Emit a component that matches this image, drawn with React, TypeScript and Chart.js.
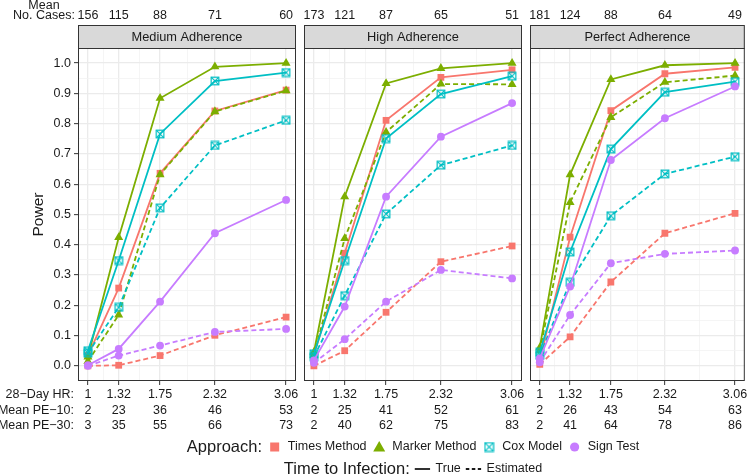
import React, { useEffect, useRef } from 'react';
import { Chart, registerables } from 'chart.js';
Chart.register(...registerables);

const FONT = '"Liberation Sans", Arial, Helvetica, sans-serif';

// ---------- data ----------
const hrValues = [1, 1.32, 1.75, 2.32, 3.06];
const hrLabels = ['1', '1.32', '1.75', '2.32', '3.06'];
const panelTitles = ['Medium Adherence', 'High Adherence', 'Perfect Adherence'];

const casesMedium = [156, 115, 88, 71, 60];
const casesHigh = [173, 121, 87, 65, 51];
const casesPerfect = [181, 124, 88, 64, 49];

const pe10Medium = [2, 23, 36, 46, 53];
const pe10High = [2, 25, 41, 52, 61];
const pe10Perfect = [2, 26, 43, 54, 63];

const pe30Medium = [3, 35, 55, 66, 73];
const pe30High = [2, 40, 62, 75, 83];
const pe30Perfect = [2, 41, 64, 78, 86];

const approachNames = ['Times Method', 'Marker Method', 'Cox Model', 'Sign Test'];
const approachColors = ['#F8766D', '#7CAE00', '#00BFC4', '#C77CFF'];
const timeTypes = ['True', 'Estimated'];

// Medium adherence
const medTimesTrue = [0.035, 0.257, 0.636, 0.842, 0.911];
const medTimesEst = [0.0, 0.002, 0.034, 0.101, 0.161];
const medMarkerTrue = [0.03, 0.424, 0.884, 0.988, 1.0];
const medMarkerEst = [0.015, 0.168, 0.632, 0.84, 0.909];
const medCoxTrue = [0.05, 0.348, 0.766, 0.941, 0.969];
const medCoxEst = [0.042, 0.193, 0.522, 0.728, 0.811];
const medSignTrue = [0.002, 0.056, 0.212, 0.438, 0.548];
const medSignEst = [0.0, 0.034, 0.067, 0.112, 0.122];

// High adherence
const highTimesTrue = [0.035, 0.372, 0.811, 0.953, 0.978];
const highTimesEst = [0.0, 0.05, 0.177, 0.344, 0.396];
const highMarkerTrue = [0.045, 0.559, 0.933, 0.983, 1.0];
const highMarkerEst = [0.035, 0.421, 0.772, 0.931, 0.93];
const highCoxTrue = [0.04, 0.348, 0.751, 0.898, 0.957];
const highCoxEst = [0.03, 0.232, 0.502, 0.663, 0.728];
const highSignTrue = [0.018, 0.196, 0.559, 0.757, 0.868];
const highSignEst = [0.01, 0.088, 0.212, 0.317, 0.289];

// Perfect adherence
const perfTimesTrue = [0.02, 0.425, 0.843, 0.965, 0.986];
const perfTimesEst = [0.005, 0.096, 0.277, 0.438, 0.504];
const perfMarkerTrue = [0.06, 0.632, 0.946, 0.993, 1.0];
const perfMarkerEst = [0.05, 0.54, 0.821, 0.937, 0.959];
const perfCoxTrue = [0.045, 0.376, 0.716, 0.904, 0.939];
const perfCoxEst = [0.035, 0.276, 0.496, 0.634, 0.691];
const perfSignTrue = [0.025, 0.262, 0.68, 0.818, 0.923];
const perfSignEst = [0.012, 0.168, 0.339, 0.37, 0.381];

const panelSeries = [
  [[medTimesTrue, medTimesEst], [medMarkerTrue, medMarkerEst], [medCoxTrue, medCoxEst], [medSignTrue, medSignEst]],
  [[highTimesTrue, highTimesEst], [highMarkerTrue, highMarkerEst], [highCoxTrue, highCoxEst], [highSignTrue, highSignEst]],
  [[perfTimesTrue, perfTimesEst], [perfMarkerTrue, perfMarkerEst], [perfCoxTrue, perfCoxEst], [perfSignTrue, perfSignEst]],
];
const panelCases = [casesMedium, casesHigh, casesPerfect];
const panelPe10 = [pe10Medium, pe10High, pe10Perfect];
const panelPe30 = [pe30Medium, pe30High, pe30Perfect];

// ---------- layout ----------
const W = 750;
const H = 476;
const PANEL_LEFT = [78, 304, 530];
const PANEL_RIGHT = [296, 522, 748];
const PLOT_TOP = 48;
const PLOT_BOTTOM = 381;
const STRIP_TOP = 25;
const X_AXIS_H = 60;
const TICK_LEN = 4;
const TICK_PAD = 2;
const LINE_H = 15.5;
const AXIS_FONT = 12.5;

const X_MINOR = [1.16, 1.535, 2.035, 2.69];

function isMajorX(v: number) {
  return hrValues.some((h) => Math.abs(h - v) < 1e-6);
}
function isMajorY(v: number) {
  return Math.abs(v * 10 - Math.round(v * 10)) < 1e-6;
}

function makeCoxImage(color: string, size = 9) {
  const c = document.createElement('canvas');
  c.width = size;
  c.height = size;
  const g = c.getContext('2d')!;
  g.strokeStyle = color;
  g.lineWidth = 1.2;
  const a = 1.2;
  const b = size - 1.2;
  g.strokeRect(a, a, b - a, b - a);
  g.beginPath();
  g.moveTo(a, a);
  g.lineTo(b, b);
  g.moveTo(b, a);
  g.lineTo(a, b);
  g.stroke();
  return c;
}

function drawKeyShape(ctx: CanvasRenderingContext2D, k: number, cx: number, cy: number) {
  const col = approachColors[k];
  ctx.save();
  ctx.fillStyle = col;
  if (k === 0) {
    ctx.fillRect(cx - 4.5, cy - 4.5, 9, 9);
  } else if (k === 1) {
    ctx.beginPath();
    ctx.moveTo(cx, cy - 6);
    ctx.lineTo(cx + 6, cy + 4.5);
    ctx.lineTo(cx - 6, cy + 4.5);
    ctx.closePath();
    ctx.fill();
  } else if (k === 2) {
    const c2 = makeCoxImage(col, 11);
    ctx.drawImage(c2, cx - 5.5, cy - 5.5);
  } else {
    ctx.beginPath();
    ctx.arc(cx, cy, 4.6, 0, Math.PI * 2);
    ctx.fill();
  }
  ctx.restore();
}

function drawLegend(ctx: CanvasRenderingContext2D) {
  const center = 413;
  const titleFont = `16.5px ${FONT}`;
  const itemFont = `12.5px ${FONT}`;
  const KEY = 17.3;
  const GAP_TEXT = 4.5;
  const GAP_ITEM = 4;
  ctx.save();
  ctx.textBaseline = 'middle';
  ctx.textAlign = 'left';
  ctx.fillStyle = '#1a1a1a';

  // Row 1: Approach
  const y1 = 447;
  ctx.font = titleFont;
  const t1 = 'Approach:';
  const t1w = ctx.measureText(t1).width;
  ctx.font = itemFont;
  let total1 = t1w;
  approachNames.forEach((n) => {
    total1 += GAP_ITEM + KEY + GAP_TEXT + ctx.measureText(n).width;
  });
  let x = center - total1 / 2;
  ctx.font = titleFont;
  ctx.fillText(t1, x, y1);
  x += t1w;
  ctx.font = itemFont;
  approachNames.forEach((n, k) => {
    x += GAP_ITEM;
    drawKeyShape(ctx, k, x + KEY / 2, y1);
    x += KEY + GAP_TEXT;
    ctx.fillStyle = '#1a1a1a';
    ctx.fillText(n, x, y1);
    x += ctx.measureText(n).width;
  });

  // Row 2: Time to Infection
  const y2 = 469;
  ctx.font = titleFont;
  const t2 = 'Time to Infection:';
  const t2w = ctx.measureText(t2).width;
  ctx.font = itemFont;
  let total2 = t2w;
  timeTypes.forEach((n) => {
    total2 += GAP_ITEM + KEY + GAP_TEXT + ctx.measureText(n).width;
  });
  x = center - total2 / 2;
  ctx.font = titleFont;
  ctx.fillText(t2, x, y2);
  x += t2w;
  ctx.font = itemFont;
  timeTypes.forEach((n, k) => {
    x += GAP_ITEM;
    ctx.save();
    ctx.strokeStyle = '#1a1a1a';
    ctx.lineWidth = 1.8;
    if (k === 1) ctx.setLineDash([3.5, 2.5]);
    ctx.beginPath();
    ctx.moveTo(x + 1, y2);
    ctx.lineTo(x + KEY - 1, y2);
    ctx.stroke();
    ctx.restore();
    x += KEY + GAP_TEXT;
    ctx.fillText(n, x, y2);
    x += ctx.measureText(n).width;
  });
  ctx.restore();
}

function buildConfig(idx: number, cox: HTMLCanvasElement): any {
  const series = panelSeries[idx];
  const datasets: any[] = [];
  const styles: any[] = ['rect', 'triangle', cox, 'circle'];
  const radii = [4.8, 5.2, 5, 3.9];
  let order = 100;
  series.forEach((pair, k) => {
    pair.forEach((vals, t) => {
      datasets.push({
        label: `${approachNames[k]} - ${timeTypes[t]}`,
        data: hrValues.map((x, i) => ({ x, y: vals[i] })),
        borderColor: approachColors[k],
        backgroundColor: approachColors[k],
        borderWidth: 1.8,
        borderDash: t === 1 ? [5, 3] : [],
        pointStyle: styles[k],
        pointRadius: radii[k],
        pointBorderWidth: 0,
        pointHoverRadius: radii[k],
        tension: 0,
        fill: false,
        order: order--,
      });
    });
  });

  const first = idx === 0;
  const stripPlugin = {
    id: 'facetDecor' + idx,
    afterDraw(chart: any) {
      const { ctx, chartArea } = chart;
      const xs = chart.scales.x;
      const left = chartArea.left;
      const right = chartArea.right;
      ctx.save();
      // strip
      ctx.fillStyle = '#D9D9D9';
      ctx.fillRect(left, STRIP_TOP, right - left, chartArea.top - STRIP_TOP);
      ctx.strokeStyle = '#333333';
      ctx.lineWidth = 1;
      ctx.strokeRect(left + 0.5, STRIP_TOP + 0.5, right - left - 1, chartArea.top - STRIP_TOP);
      ctx.fillStyle = '#1a1a1a';
      ctx.font = `12.8px ${FONT}`;
      ctx.textAlign = 'center';
      ctx.textBaseline = 'middle';
      ctx.fillText(panelTitles[idx], (left + right) / 2, (STRIP_TOP + chartArea.top) / 2 + 0.5);
      // panel border
      ctx.strokeRect(left + 0.5, chartArea.top + 0.5, right - left - 1, chartArea.bottom - chartArea.top - 1);
      // top numbers: mean no. cases
      ctx.font = `${AXIS_FONT}px ${FONT}`;
      ctx.fillStyle = '#1a1a1a';
      panelCases[idx].forEach((v, i) => {
        ctx.fillText(String(v), xs.getPixelForValue(hrValues[i]), 15.5);
      });
      if (first) {
        ctx.fillText('Mean', 44, 6);
        ctx.fillText('No. Cases:', 44, 15.5);
        ctx.textAlign = 'right';
        const rowY0 = xs.top + TICK_LEN + TICK_PAD + LINE_H / 2;
        ['28\u2212Day HR:', 'Mean PE\u221210:', 'Mean PE\u221230:'].forEach((s, r) => {
          ctx.fillText(s, 74, rowY0 + r * LINE_H);
        });
        drawLegend(ctx);
      }
      ctx.restore();
    },
  };

  return {
    type: 'line',
    data: { datasets },
    options: {
      responsive: false,
      animation: false,
      devicePixelRatio: 1,
      layout: {
        padding: {
          left: first ? 0 : PANEL_LEFT[idx],
          right: W - PANEL_RIGHT[idx],
          top: PLOT_TOP,
          bottom: H - PLOT_BOTTOM - X_AXIS_H,
        },
      },
      plugins: {
        legend: { display: false },
        tooltip: { enabled: false },
        title: { display: false },
      },
      scales: {
        x: {
          type: 'linear',
          position: 'bottom',
          min: 0.897,
          max: 3.163,
          afterBuildTicks: (s: any) => {
            const vals = [...hrValues, ...X_MINOR].sort((a, b) => a - b);
            s.ticks = vals.map((v) => ({ value: v }));
          },
          afterFit: (s: any) => {
            s.height = X_AXIS_H;
            s.paddingLeft = 0;
            s.paddingRight = 0;
          },
          border: { display: false },
          grid: {
            color: (c: any) => (c.tick && isMajorX(c.tick.value) ? '#EBEBEB' : '#F3F3F3'),
            lineWidth: (c: any) => (c.tick && isMajorX(c.tick.value) ? 1.3 : 0.8),
            tickColor: (c: any) => (c.tick && isMajorX(c.tick.value) ? '#333333' : 'rgba(0,0,0,0)'),
            tickLength: TICK_LEN,
            tickWidth: 1,
            drawTicks: true,
          },
          ticks: {
            autoSkip: false,
            maxRotation: 0,
            minRotation: 0,
            padding: TICK_PAD,
            color: '#1a1a1a',
            font: { family: FONT, size: AXIS_FONT, lineHeight: LINE_H / AXIS_FONT },
            callback: (v: any) => {
              const i = hrValues.findIndex((h) => Math.abs(h - v) < 1e-6);
              if (i < 0) return '';
              return [hrLabels[i], String(panelPe10[idx][i]), String(panelPe30[idx][i])];
            },
          },
        },
        y: {
          type: 'linear',
          position: 'left',
          min: -0.05,
          max: 1.05,
          afterBuildTicks: (s: any) => {
            const t: any[] = [];
            for (let i = 0; i <= 20; i++) t.push({ value: i * 0.05 });
            s.ticks = t;
          },
          afterFit: (s: any) => {
            s.width = first ? PANEL_LEFT[0] : 0;
            s.paddingTop = 0;
            s.paddingBottom = 0;
          },
          border: { display: false },
          grid: {
            color: (c: any) => (c.tick && isMajorY(c.tick.value) ? '#EBEBEB' : '#F3F3F3'),
            lineWidth: (c: any) => (c.tick && isMajorY(c.tick.value) ? 1.3 : 0.8),
            tickColor: (c: any) => (c.tick && isMajorY(c.tick.value) ? '#333333' : 'rgba(0,0,0,0)'),
            tickLength: TICK_LEN,
            tickWidth: 1,
            drawTicks: first,
          },
          title: {
            display: first,
            text: 'Power',
            color: '#1a1a1a',
            font: { family: FONT, size: 15.5 },
            padding: { top: 29, bottom: 0 },
          },
          ticks: {
            display: first,
            autoSkip: false,
            padding: 3,
            color: '#1a1a1a',
            font: { family: FONT, size: AXIS_FONT },
            callback: (v: any) => (isMajorY(v) ? Number(v).toFixed(1) : ''),
          },
        },
      },
    },
    plugins: [stripPlugin],
  };
}

export default function App() {
  const r0 = useRef<HTMLCanvasElement>(null);
  const r1 = useRef<HTMLCanvasElement>(null);
  const r2 = useRef<HTMLCanvasElement>(null);
  useEffect(() => {
    Chart.defaults.font.family = FONT;
    const cox = makeCoxImage(approachColors[2], 10);
    const refs = [r0, r1, r2];
    const charts = refs.map((r, i) => new Chart(r.current as HTMLCanvasElement, buildConfig(i, cox)));
    return () => charts.forEach((c) => c.destroy());
  }, []);
  const cs: React.CSSProperties = { position: 'absolute', left: 0, top: 0, width: W, height: H };
  return (
    <div style={{ position: 'fixed', left: 0, top: 0, width: W, height: H, background: '#ffffff' }}>
      <canvas ref={r0} width={W} height={H} style={cs} />
      <canvas ref={r1} width={W} height={H} style={cs} />
      <canvas ref={r2} width={W} height={H} style={cs} />
    </div>
  );
}
